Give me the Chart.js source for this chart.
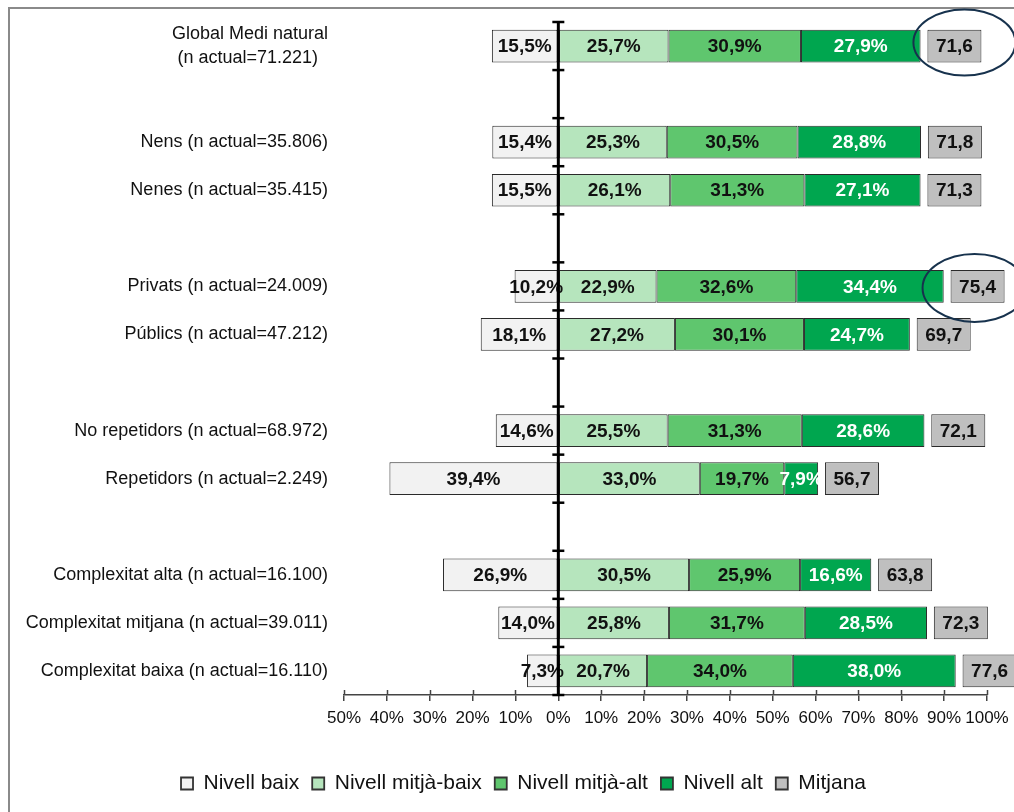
<!DOCTYPE html>
<html><head><meta charset="utf-8">
<script src="https://cdn.jsdelivr.net/npm/chart.js@4/dist/chart.umd.min.js"></script>
<style>html,body{margin:0;padding:0;background:#fff;}#wrap{position:relative;width:1014px;height:812px;}canvas{display:block;}</style>
</head><body><div id="wrap"><canvas id="c" width="1014" height="812" style="width:1014px;height:812px"></canvas></div>
<script>
const categories = [
  ['Global Medi natural', '(n actual=71.221)  '], '',
  'Nens (n actual=35.806)', 'Nenes (n actual=35.415)', '',
  'Privats (n actual=24.009)', 'Públics (n actual=47.212)', '',
  'No repetidors (n actual=68.972)', 'Repetidors (n actual=2.249)', '',
  'Complexitat alta (n actual=16.100)', 'Complexitat mitjana (n actual=39.011)', 'Complexitat baixa (n actual=16.110)'
];
const nivellBaix      = [15.5, null, 15.4, 15.5, null, 10.2, 18.1, null, 14.6, 39.4, null, 26.9, 14.0, 7.3];
const nivellMitjaBaix = [25.7, null, 25.3, 26.1, null, 22.9, 27.2, null, 25.5, 33.0, null, 30.5, 25.8, 20.7];
const nivellMitjaAlt  = [30.9, null, 30.5, 31.3, null, 32.6, 30.1, null, 31.3, 19.7, null, 25.9, 31.7, 34.0];
const nivellAlt       = [27.9, null, 28.8, 27.1, null, 34.4, 24.7, null, 28.6, 7.9, null, 16.6, 28.5, 38.0];
const mitjana         = [71.6, null, 71.8, 71.3, null, 75.4, 69.7, null, 72.1, 56.7, null, 63.8, 72.3, 77.6];
const seriesNames = ['Nivell baix', 'Nivell mitjà-baix', 'Nivell mitjà-alt', 'Nivell alt', 'Mitjana'];
const xTickValues = [-50, -40, -30, -20, -10, 0, 10, 20, 30, 40, 50, 60, 70, 80, 90, 100];
const highlightedRows = [0, 5];

// styling constants
const FONT = "'Liberation Sans', Arial, sans-serif";
const COLORS = ['#f2f2f2', '#b6e5bd', '#5fc66e', '#00a64f', '#bfbfbf'];
const LABEL_COLORS = ['#111', '#111', '#111', '#fff', '#111'];
const MITJANA_GAP = 1.6, MITJANA_WIDTH = 12.6;
const ELLIPSE_STYLE = [{ dx: 10, dy: -3.5, rx: 51, ry: 33 }, { dx: -3, dy: 1.5, rx: 52, ry: 34 }];
const LEGEND_SHIFT = 30;

// floating ranges derived from the data
const rBaix = nivellBaix.map(v => v == null ? null : [-v, 0]);
const rMB = nivellMitjaBaix.map(v => v == null ? null : [0, v]);
const rMA = nivellMitjaAlt.map((v, i) => v == null ? null : [nivellMitjaBaix[i], nivellMitjaBaix[i] + v]);
const rAlt = nivellAlt.map((v, i) => v == null ? null : [nivellMitjaBaix[i] + nivellMitjaAlt[i], nivellMitjaBaix[i] + nivellMitjaAlt[i] + v]);
const rMit = mitjana.map((v, i) => {
  if (v == null) return null;
  const end = nivellMitjaBaix[i] + nivellMitjaAlt[i] + nivellAlt[i];
  return [end + MITJANA_GAP, end + MITJANA_GAP + MITJANA_WIDTH];
});
const rawSeries = [nivellBaix, nivellMitjaBaix, nivellMitjaAlt, nivellAlt, mitjana];
const ranges = [rBaix, rMB, rMA, rAlt, rMit];

const datasets = ranges.map((r, k) => ({
  label: seriesNames[k],
  data: r,
  raw: rawSeries[k],
  backgroundColor: COLORS[k],
  borderColor: '#2a2a2a',
  borderWidth: 1,
  borderSkipped: false,
  clip: false
}));

const fmt = v => v.toFixed(1).replace('.', ',');

const framePlugin = {
  id: 'frame',
  afterLayout(chart) {
    if (chart.legend) { chart.legend.left += LEGEND_SHIFT; chart.legend.right += LEGEND_SHIFT; }
  },
  beforeDraw(chart) {
    const ctx = chart.ctx;
    ctx.save();
    ctx.fillStyle = '#fff';
    ctx.fillRect(0, 0, chart.width, chart.height);
    ctx.strokeStyle = '#8a8a8a';
    ctx.lineWidth = 2;
    ctx.strokeRect(9, 8, chart.width + 20, chart.height + 20);
    ctx.restore();
  }
};

const labelPlugin = {
  id: 'barLabels',
  afterDatasetsDraw(chart) {
    const ctx = chart.ctx;
    ctx.save();
    ctx.font = 'bold 19px ' + FONT;
    ctx.textAlign = 'center';
    ctx.textBaseline = 'middle';
    chart.data.datasets.forEach((ds, k) => {
      const meta = chart.getDatasetMeta(k);
      meta.data.forEach((el, i) => {
        const v = ds.raw[i];
        if (v == null) return;
        const cx = (el.x + el.base) / 2;
        ctx.fillStyle = LABEL_COLORS[k];
        ctx.fillText(fmt(v) + (k < 4 ? '%' : ''), cx, el.y + 1);
      });
    });
    ctx.restore();
  },
  afterDraw(chart) {
    const ctx = chart.ctx;
    const xs = chart.scales.x, ys = chart.scales.y;
    const area = chart.chartArea;
    ctx.save();
    ctx.strokeStyle = '#444';
    ctx.lineWidth = 1.5;
    xTickValues.forEach(v => {
      const x = Math.round(xs.getPixelForValue(v)) + 0.5;
      ctx.beginPath(); ctx.moveTo(x, area.bottom - 5); ctx.lineTo(x, area.bottom); ctx.stroke();
    });
    const x0 = xs.getPixelForValue(0);
    ctx.strokeStyle = '#000';
    ctx.lineWidth = 3;
    ctx.beginPath(); ctx.moveTo(x0, area.top - 1); ctx.lineTo(x0, area.bottom); ctx.stroke();
    ctx.lineWidth = 2.5;
    for (let i = 0; i <= categories.length; i++) {
      const y = ys.getPixelForValue(i - 0.5);
      ctx.beginPath(); ctx.moveTo(x0 - 6, y); ctx.lineTo(x0 + 6, y); ctx.stroke();
    }
    const meta = chart.getDatasetMeta(4);
    ctx.strokeStyle = '#17324d';
    ctx.lineWidth = 2;
    highlightedRows.forEach((i, j) => {
      const el = meta.data[i];
      const st = ELLIPSE_STYLE[j];
      const cx = (el.x + el.base) / 2 + st.dx;
      ctx.beginPath();
      ctx.ellipse(cx, el.y + st.dy, st.rx, st.ry, 0, 0, Math.PI * 2);
      ctx.stroke();
    });
    ctx.restore();
  }
};

const baseLegend = Chart.defaults.plugins.legend.labels.generateLabels;

new Chart(document.getElementById('c'), {
  type: 'bar',
  data: { labels: categories, datasets },
  options: {
    indexAxis: 'y',
    responsive: false,
    maintainAspectRatio: false,
    animation: false,
    devicePixelRatio: 1,
    layout: { padding: { left: 0, right: 27, top: 22, bottom: 8 } },
    datasets: { bar: { grouped: false, categoryPercentage: 1, barPercentage: 0.68 } },
    scales: {
      x: {
        type: 'linear', min: -50, max: 100,
        afterBuildTicks: s => { s.ticks = xTickValues.map(v => ({ value: v })); },
        afterFit: s => { s.height = 65; s.paddingLeft = 0; s.paddingRight = 0; },
        grid: { drawOnChartArea: false, drawTicks: true, tickLength: 6, color: '#444', lineWidth: 1.5 },
        border: { display: true, color: '#444', width: 1.5 },
        ticks: { callback: v => Math.abs(v) + '%', font: { family: FONT, size: 17 }, color: '#111', padding: 7, maxRotation: 0, autoSkip: false }
      },
      y: {
        afterFit: s => { s.width = 344; s.paddingTop = 0; s.paddingBottom = 0; },
        grid: { display: false, drawTicks: false },
        border: { display: false },
        ticks: { font: { family: FONT, size: 18, lineHeight: 1.28 }, color: '#111', padding: 16, autoSkip: false }
      }
    },
    plugins: {
      legend: {
        position: 'bottom',
        labels: {
          font: { family: FONT, size: 21 }, color: '#111',
          boxWidth: 12, boxHeight: 12, padding: 13,
          generateLabels: ch => baseLegend(ch).map(l => Object.assign(l, { lineWidth: 1.8, strokeStyle: '#333' }))
        }
      },
      tooltip: { enabled: false }
    }
  },
  plugins: [framePlugin, labelPlugin]
});
</script>
</body></html>
